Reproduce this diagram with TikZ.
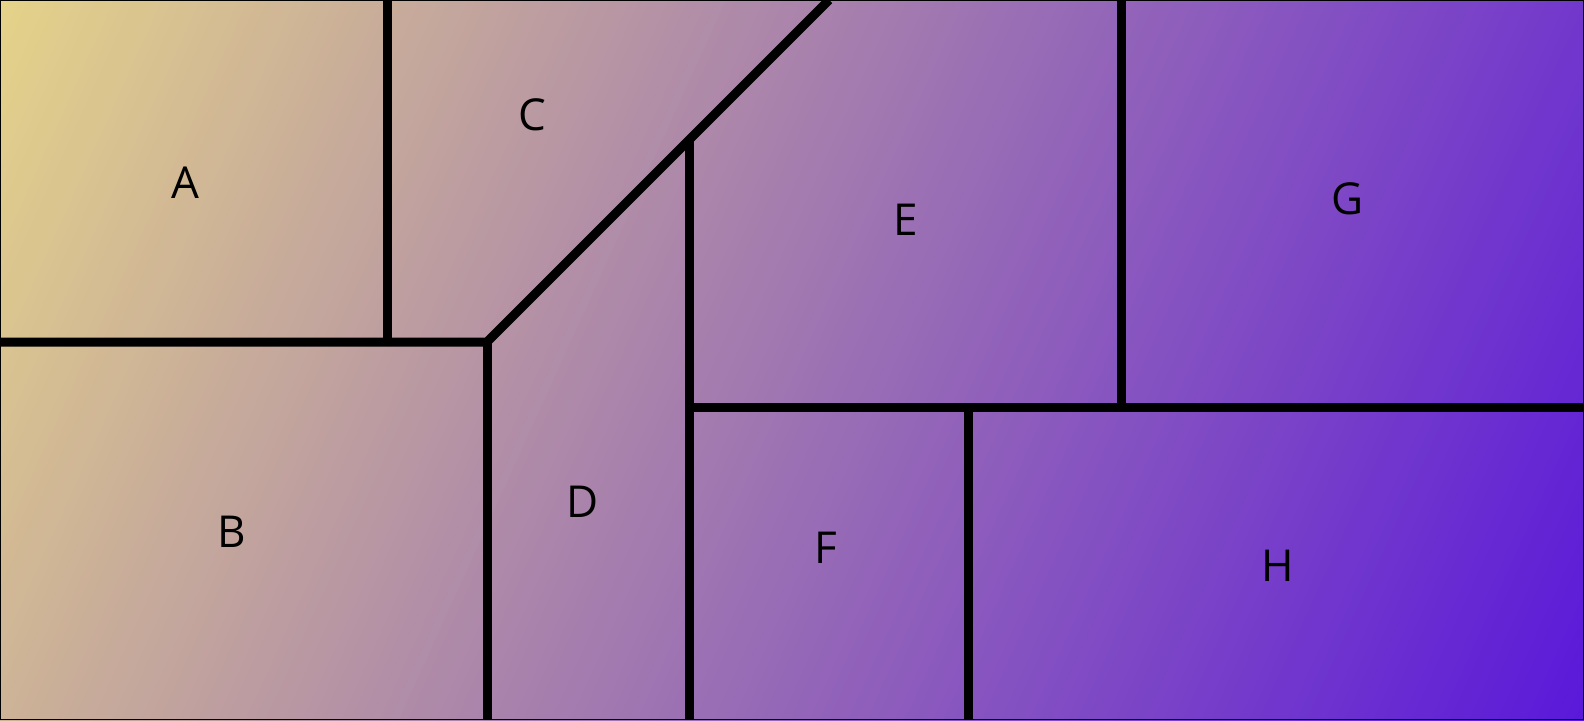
\documentclass[tikz,border=0pt]{standalone}
\usepackage{fontspec}
\setmainfont{Open Sans}
\definecolor{gstart}{RGB}{229,211,137}
\definecolor{gend}{RGB}{90,24,218}
\tikzset{
  divider/.style={line width=4.5pt, black, line join=miter},
  regionlabel/.style={font=\fontsize{22pt}{26pt}\selectfont, text=black, inner sep=0pt},
}
\begin{document}
\begin{tikzpicture}[x=0.5pt,y=0.5pt]
\useasboundingbox (0,0) rectangle (1584,720);
% background gradient (pixel-space diagonal from top-left to bottom-right)
\begin{scope}
  \clip (0,0) rectangle (1584,720);
  \begin{scope}[shift={(0,720)}, rotate=-24.444]
    \foreach \i in {0,...,199} {
      \pgfmathsetmacro\s{\i*8.7}
      \pgfmathsetmacro\p{(\i+0.5)/2}
      \fill[gend!\p!gstart] (\s,-2500) rectangle (3000,2500);
    }
  \end{scope}
\end{scope}
% dividers
\coordinate (abL) at (0,378);
\coordinate (junc) at (487,378);
\coordinate (diagTop) at (829,720);
\coordinate (acTop) at (387.5,720);
\coordinate (acBot) at (387.5,378);
\coordinate (bdBot) at (487,0);
\coordinate (deTop) at (689,580);
\coordinate (deBot) at (689,0);
\coordinate (efL) at (689,313);
\coordinate (efR) at (1584,313);
\coordinate (egTop) at (1121,720);
\coordinate (egBot) at (1121,313);
\coordinate (fhTop) at (968,313);
\coordinate (fhBot) at (968,0);
\draw[divider] (abL) -- (junc) -- (diagTop);
\draw[divider] (acTop) -- (acBot);
\draw[divider] (junc) -- (bdBot);
\draw[divider] (deTop) -- (deBot);
\draw[divider] (efL) -- (efR);
\draw[divider] (egTop) -- (egBot);
\draw[divider] (fhTop) -- (fhBot);
% border
\draw[line width=0.6pt] (0.6,0.6) rectangle (1583.4,719.4);
% labels
\node[regionlabel] (A) at (185,537) {A};
\node[regionlabel] (B) at (232,188) {B};
\node[regionlabel] (C) at (532,605) {C};
\node[regionlabel] (D) at (583,218) {D};
\node[regionlabel] (E) at (906,500) {E};
\node[regionlabel] (F) at (826,172) {F};
\node[regionlabel] (G) at (1347,521) {G};
\node[regionlabel] (H) at (1278,154) {H};
\end{tikzpicture}
\end{document}
